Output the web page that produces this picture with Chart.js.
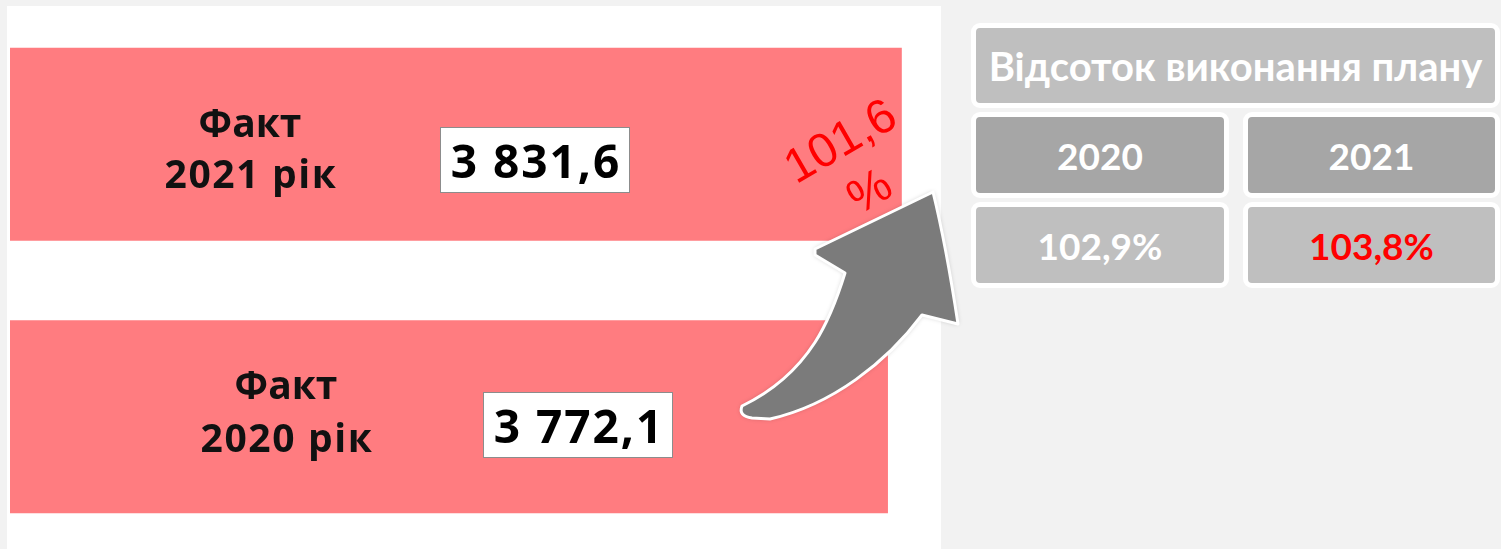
<!DOCTYPE html>
<html>
<head>
<meta charset="utf-8">
<script src="https://cdn.jsdelivr.net/npm/chart.js"></script>
<style>
    body { margin: 0; width: 1501px; height: 549px; overflow: hidden; background: #f2f2f2; position: relative; }
    #panel { position: absolute; left: 7px; top: 6px; width: 934px; height: 543px; background: #fff; }
    #chartId { position: absolute; left: 0; top: 0; }
    .cell { position: absolute; box-sizing: border-box; border: 5px solid #fff; border-radius: 9px;
            display: flex; align-items: center; justify-content: center;
            font-family: Lato, sans-serif; font-weight: bold; color: #fff; }
</style>
</head>
<body>
    <div id="panel"></div>
    <canvas id="chartId" width="975" height="553"></canvas>
    <div id="table"></div>
    <script>
        // дані
        const years = ['2021', '2020'];
        const factValues = [3831.6, 3772.1];
        const growthText = '101,6 %';
        const tableTitle = 'Відсоток виконання плану';
        const planYears = ['2020', '2021'];
        const planPercent = ['102,9%', '103,8%'];

        const fmt = v => v.toFixed(1).replace('.', ',').replace(/\B(?=(\d{3})+(?!\d))/, ' ');

        // таблиця праворуч
        const table = document.getElementById('table');
        function cell(text, left, top, w, h, bg, size, color) {
            const d = document.createElement('div');
            d.className = 'cell';
            d.textContent = text;
            Object.assign(d.style, { left: left + 'px', top: top + 'px', width: w + 'px', height: h + 'px',
                background: bg, fontSize: size + 'px', color: color || '#fff' });
            table.appendChild(d);
        }
        cell(tableTitle, 971, 23, 529, 85, '#bfbfbf', 40);
        planYears.forEach((y, i) => cell(y, i ? 1243 : 971, 112, i ? 257 : 258, 86, '#a6a6a6', 37));
        planPercent.forEach((p, i) => cell(p, i ? 1243 : 971, 202, i ? 257 : 258, 86, '#bfbfbf', 37, i ? '#ff0000' : '#fff'));

        // підписи на стовпчиках, рамки зі значеннями, стрілка
        const labelPos = [{ x: 250, b1: 137, b2: 188 }, { x: 286, b1: 399, b2: 452 }];
        const boxPos = [{ x: 440, y: 127 }, { x: 483, y: 392 }];

        const annotations = {
            id: 'annotations',
            afterDatasetsDraw(chart) {
                const ctx = chart.ctx;
                ctx.save();
                years.forEach((y, i) => {
                    ctx.fillStyle = '#111';
                    ctx.textAlign = 'center';
                    ctx.textBaseline = 'alphabetic';
                    ctx.font = 'bold 39px "Open Sans"';
                    ctx.letterSpacing = '0px';
                    ctx.fillText('Факт', labelPos[i].x, labelPos[i].b1);
                    ctx.letterSpacing = '1.6px';
                    ctx.fillText(y + ' рік', labelPos[i].x + 1, labelPos[i].b2);

                    const b = boxPos[i];
                    ctx.fillStyle = '#fff';
                    ctx.fillRect(b.x, b.y, 190, 66);
                    ctx.strokeStyle = '#8c8c8c';
                    ctx.lineWidth = 1;
                    ctx.strokeRect(b.x + 0.5, b.y + 0.5, 189, 65);
                    ctx.fillStyle = '#000';
                    ctx.font = 'bold 46px "Open Sans"';
                    ctx.letterSpacing = '2px';
                    ctx.fillText(fmt(factValues[i]), b.x + 96, b.y + 51);
                });
                ctx.letterSpacing = '0px';

                // повернутий відсоток
                ctx.save();
                ctx.translate(856, 168);
                ctx.rotate(-30 * Math.PI / 180);
                ctx.fillStyle = '#ff0000';
                ctx.font = '48px "Liberation Sans"';
                ctx.textAlign = 'center';
                ctx.textBaseline = 'middle';
                const parts = growthText.split(' ');
                ctx.fillText(parts[0], 0, -29);
                ctx.fillText(parts[1], 0, 29);
                ctx.restore();

                // стрілка
                ctx.beginPath();
                ctx.moveTo(933, 192);
                ctx.lineTo(815, 249);
                ctx.lineTo(815, 255);
                ctx.lineTo(845, 273);
                ctx.bezierCurveTo(832, 315, 812, 372, 742, 406);
                ctx.quadraticCurveTo(738, 416, 752, 418);
                ctx.lineTo(770, 419);
                ctx.bezierCurveTo(832, 405, 887, 362, 922, 315);
                ctx.lineTo(958, 324);
                ctx.quadraticCurveTo(946, 245, 933, 192);
                ctx.closePath();
                ctx.shadowColor = 'rgba(0,0,0,0.25)';
                ctx.shadowBlur = 5;
                ctx.fillStyle = '#7b7b7b';
                ctx.fill();
                ctx.shadowColor = 'transparent';
                ctx.strokeStyle = '#fff';
                ctx.lineWidth = 3;
                ctx.lineJoin = 'round';
                ctx.stroke();
                ctx.restore();
            }
        };

        new Chart(document.getElementById('chartId'), {
            type: 'bar',
            data: {
                labels: years,
                datasets: [{
                    data: factValues,
                    backgroundColor: '#ff7c80',
                    borderWidth: 0,
                    barPercentage: 0.708,
                    categoryPercentage: 1
                }]
            },
            options: {
                indexAxis: 'y',
                responsive: false,
                animation: false,
                layout: { padding: { left: 10, right: 34, top: 8, bottom: 0 } },
                plugins: { legend: { display: false }, tooltip: { enabled: false } },
                scales: {
                    x: { display: false, min: 0, max: 4000 },
                    y: { display: false }
                }
            },
            plugins: [annotations]
        });
    </script>
</body>
</html>
